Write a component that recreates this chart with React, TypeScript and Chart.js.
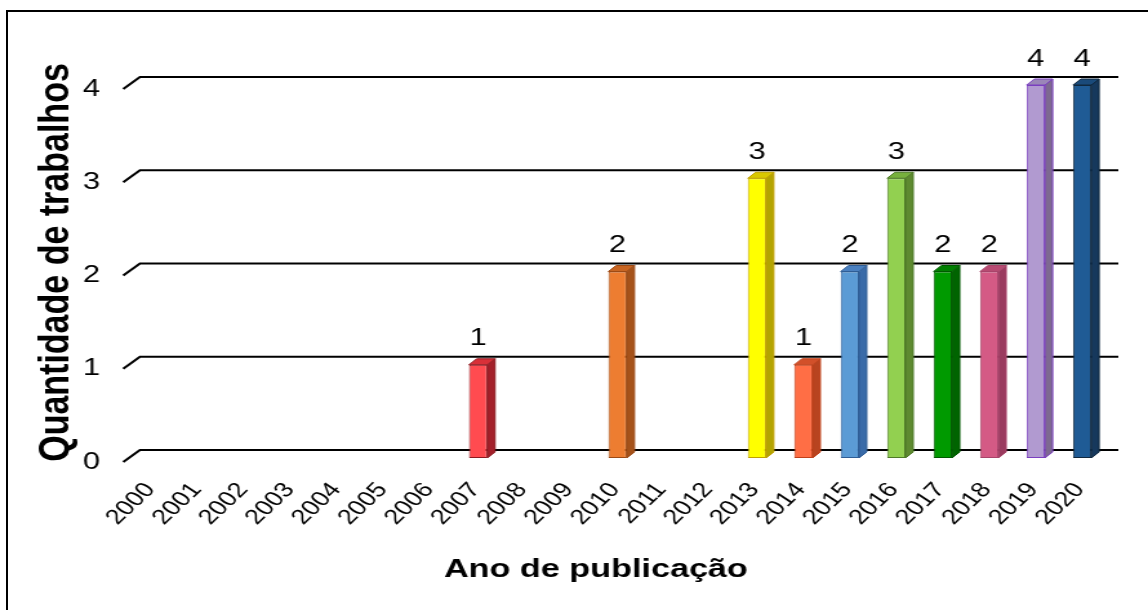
import React, { useEffect, useRef } from 'react';
import { Chart, registerables } from 'chart.js';

Chart.register(...registerables);

// ---- data ----
const YEARS = ['2000', '2001', '2002', '2003', '2004', '2005', '2006', '2007', '2008', '2009', '2010', '2011', '2012', '2013', '2014', '2015', '2016', '2017', '2018', '2019', '2020'];
const COUNTS = [0, 0, 0, 0, 0, 0, 0, 1, 0, 0, 2, 0, 0, 3, 1, 2, 3, 2, 2, 4, 4];
const Y_TICKS = [0, 1, 2, 3, 4];
const X_TITLE = 'Ano de publicação';
const Y_TITLE = 'Quantidade de trabalhos';

// ---- styles (per category) ----
const FACE = ['#ccc', '#ccc', '#ccc', '#ccc', '#ccc', '#ccc', '#ccc', '#FF4B50', '#ccc', '#ccc', '#ED7D31', '#ccc', '#ccc', '#FFFF00', '#FF6E45', '#5B9BD5', '#92D050', '#009A00', '#D45A85', '#B19AD0', '#1F5B95'];
const SIDE = ['#999', '#999', '#999', '#999', '#999', '#999', '#999', '#A3202A', '#999', '#999', '#A5521A', '#999', '#999', '#B3A400', '#B84420', '#3A6BA8', '#5E8A30', '#006400', '#9A3B5F', '#7D6990', '#16385C'];
const TOP = ['#aaa', '#aaa', '#aaa', '#aaa', '#aaa', '#aaa', '#aaa', '#D93038', '#aaa', '#aaa', '#C86522', '#aaa', '#aaa', '#D9C800', '#D2502A', '#4A80C0', '#77B03D', '#007F00', '#B84A72', '#9A86B8', '#1A4A7A'];
const EDGE = ['#777', '#777', '#777', '#777', '#777', '#777', '#777', '#8C1A20', '#777', '#777', '#9C4A15', '#777', '#777', '#C0A000', '#C0401A', '#2F5D95', '#4F7A28', '#005A00', '#A8446A', '#7B3FC0', '#10283F'];

const CANVAS_W = 890;
const CANVAS_H = 610;
const SX = 1148 / CANVAS_W;
const FONT = '"Liberation Sans", Arial, sans-serif';

const threeD = {
  id: 'threeD',
  beforeDatasetsDraw(chart: any) {
    const { ctx, chartArea, scales } = chart;
    const y = scales.y;
    ctx.save();
    ctx.strokeStyle = '#000';
    ctx.lineWidth = 2.1;
    for (const v of Y_TICKS) {
      const yy = y.getPixelForValue(v);
      const fx = chartArea.left - 5;
      const fy = yy + 4;
      const bx = fx + 13;
      const by = fy - 12;
      ctx.beginPath();
      ctx.moveTo(fx, fy);
      ctx.lineTo(bx, by);
      ctx.lineTo(chartArea.right + 10, by);
      ctx.stroke();
    }
    ctx.restore();
  },
  afterDatasetsDraw(chart: any) {
    const { ctx } = chart;
    const meta = chart.getDatasetMeta(0);
    ctx.save();
    meta.data.forEach((bar: any, i: number) => {
      const v = COUNTS[i];
      if (!v) return;
      const { x, y, base, width } = bar.getProps(['x', 'y', 'base', 'width'], true);
      const l = x - width / 2;
      const r = x + width / 2;
      const d = 6;
      ctx.lineWidth = 1;
      ctx.strokeStyle = EDGE[i];
      // side face
      ctx.fillStyle = SIDE[i];
      ctx.beginPath();
      ctx.moveTo(r, y);
      ctx.lineTo(r + d, y - d);
      ctx.lineTo(r + d, base - d);
      ctx.lineTo(r, base);
      ctx.closePath();
      ctx.fill();
      ctx.stroke();
      // top face
      ctx.fillStyle = TOP[i];
      ctx.beginPath();
      ctx.moveTo(l, y);
      ctx.lineTo(l + d, y - d);
      ctx.lineTo(r + d, y - d);
      ctx.lineTo(r, y);
      ctx.closePath();
      ctx.fill();
      ctx.stroke();
      // value label
      ctx.fillStyle = '#000';
      ctx.font = `24px ${FONT}`;
      ctx.textAlign = 'center';
      ctx.textBaseline = 'alphabetic';
      ctx.fillText(String(v), x, y - 19.5);
    });
    ctx.restore();
  },
  afterDraw(chart: any) {
    const { ctx } = chart;
    ctx.save();
    ctx.fillStyle = '#000';
    ctx.textAlign = 'center';
    ctx.textBaseline = 'alphabetic';
    ctx.font = `bold 26.5px ${FONT}`;
    ctx.fillText(X_TITLE, 462, 577);
    ctx.translate(53, 262.5);
    ctx.rotate(-Math.PI / 2);
    ctx.font = `bold 34px ${FONT}`;
    ctx.fillText(Y_TITLE, 0, 0);
    ctx.restore();
  },
};

export default function App() {
  const ref = useRef<HTMLCanvasElement>(null);
  useEffect(() => {
    document.body.style.margin = '0';
    const chart = new Chart(ref.current!, {
      type: 'bar',
      data: {
        labels: YEARS,
        datasets: [
          {
            data: COUNTS,
            backgroundColor: FACE,
            borderColor: EDGE,
            borderWidth: (c: any) => (c.raw > 0 ? 1 : 0),
            borderSkipped: false,
            barPercentage: 0.395,
            categoryPercentage: 1,
          },
        ],
      },
      options: {
        responsive: false,
        animation: false,
        devicePixelRatio: 1,
        layout: { padding: { top: 85, right: 33, left: 0, bottom: 0 } },
        plugins: {
          legend: { display: false },
          tooltip: { enabled: false },
          title: { display: false },
        },
        scales: {
          x: {
            grid: { display: false },
            border: { display: false },
            ticks: {
              autoSkip: false,
              minRotation: 50,
              maxRotation: 50,
              padding: 12,
              labelOffset: -2,
              color: '#000',
              font: { size: 21, family: FONT },
            },
            afterFit: (s: any) => {
              s.height = 152;
            },
          },
          y: {
            min: 0,
            max: 4,
            grid: { display: false },
            border: { display: false },
            ticks: {
              stepSize: 1,
              padding: 15,
              labelOffset: 4,
              color: '#000',
              font: { size: 24, family: FONT },
            },
            afterFit: (s: any) => {
              s.width = 100.5;
            },
          },
        },
      },
      plugins: [threeD],
    } as any);
    return () => chart.destroy();
  }, []);
  return (
    <div style={{ position: 'absolute', left: 0, top: 0, width: 1148, height: 610, overflow: 'hidden', background: '#fff' }}>
      <canvas
        ref={ref}
        width={CANVAS_W}
        height={CANVAS_H}
        style={{ position: 'absolute', left: 0, top: 0, width: CANVAS_W, height: CANVAS_H, transform: `scaleX(${SX})`, transformOrigin: '0 0' }}
      />
      <div style={{ position: 'absolute', left: 6, top: 10, width: 1300, height: 800, borderLeft: '2px solid #000', borderTop: '2px solid #000' }} />
    </div>
  );
}
